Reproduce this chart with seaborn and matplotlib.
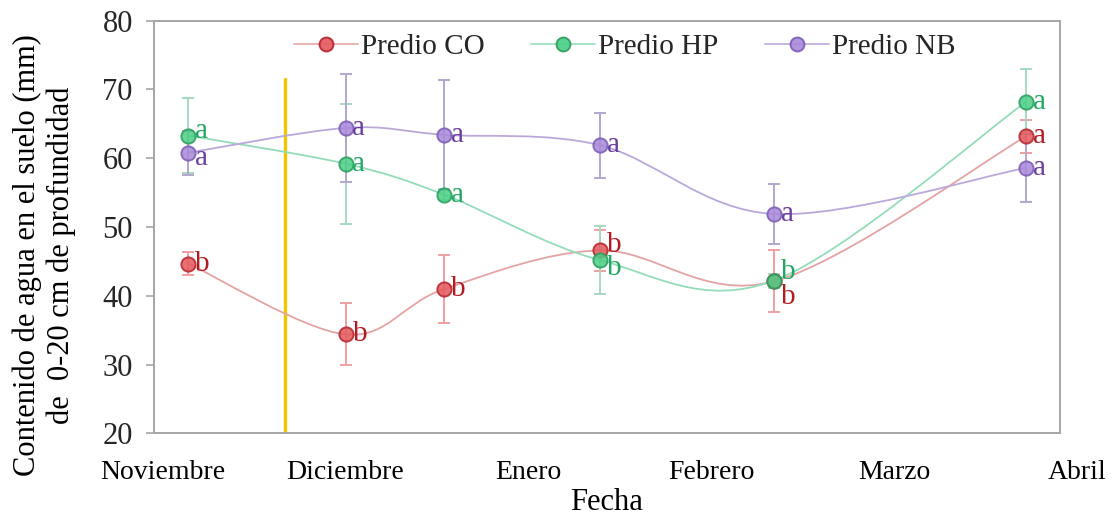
import numpy as np
import pandas as pd
import matplotlib
matplotlib.use("Agg")
import matplotlib.pyplot as plt
import seaborn as sns
from matplotlib.path import Path
from matplotlib.patches import PathPatch
from matplotlib.lines import Line2D
import matplotlib.transforms as mtransforms

# ---------------- data ----------------
meses = ["Noviembre", "Diciembre", "Enero", "Febrero", "Marzo", "Abril"]
fecha = [0.14, 1.00, 1.54, 2.39, 3.34, 4.72]   # sampling dates (months after 1 Nov)
predios = ["Predio CO", "Predio HP", "Predio NB"]
co = [44.7, 34.4, 41.0, 46.6, 42.1, 63.2]
hp = [63.3, 59.2, 54.7, 45.2, 42.2, 68.2]
nb = [60.8, 64.4, 63.4, 61.9, 51.9, 58.6]
co_err = [1.7, 4.5, 5.0, 3.0, 4.5, 2.4]
hp_err = [5.5, 8.7, 0.8, 4.9, 1.0, 4.7]
nb_err = [3.2, 7.8, 8.0, 4.7, 4.3, 4.9]
co_letras = ["b", "b", "b", "b", "b", "a"]
hp_letras = ["a", "a", "a", "b", "b", "a"]
nb_letras = ["a", "a", "a", "a", "a", "a"]
corte_fecha = 0.67
corte_max = 71.5

# ---------------- style ----------------
sns.set_theme(style="white")
plt.rcParams["font.family"] = ["Liberation Serif", "DejaVu Serif"]

FS = 20
styles = {
    "Predio CO": dict(line="#E4A3A4", face="#E5585C", edge="#B3242B", err="#EFA0A2", text="#B01C22"),
    "Predio HP": dict(line="#93DDB9", face="#4ACF86", edge="#2A9C5C", err="#A5D9C0", text="#22A862"),
    "Predio NB": dict(line="#BBA8DA", face="#A988DA", edge="#7A5BB3", err="#B3A7CF", text="#6B3F9E"),
}
series = {
    "Predio CO": (co, co_err, co_letras),
    "Predio HP": (hp, hp_err, hp_letras),
    "Predio NB": (nb, nb_err, nb_letras),
}
# letter offsets in points (layout only)
letter_off = {
    ("Predio CO", 3): (5, 4), ("Predio HP", 3): (5, -6),
    ("Predio HP", 4): (5, 6), ("Predio CO", 4): (5, -11),
    ("Predio HP", 0): (5, 3), ("Predio NB", 0): (5, -4),
}

fig = plt.figure(figsize=(11.18, 5.16), dpi=100)
ax = fig.add_axes([0.1374, 0.160, 0.948 - 0.1374, 0.960 - 0.160])

ax.set_xlim(-0.049, 4.904)
ax.set_ylim(20, 80)


def smooth_path(xs, ys):
    pts = np.column_stack([xs, ys]).astype(float)
    n = len(pts)
    verts = [pts[0]]
    codes = [Path.MOVETO]
    for i in range(n - 1):
        p0 = pts[i - 1] if i > 0 else pts[i]
        p1 = pts[i]
        p2 = pts[i + 1]
        p3 = pts[i + 2] if i + 2 < n else pts[i + 1]
        c1 = p1 + (p2 - p0) / 6.0
        c2 = p2 - (p3 - p1) / 6.0
        verts += [c1, c2, p2]
        codes += [Path.CURVE4] * 3
    return Path(verts, codes)


# yellow vertical line
ax.plot([corte_fecha, corte_fecha], [20, corte_max], color="#F3C400", lw=2.4, zorder=2)

for name in predios:
    vals, errs, letras = series[name]
    st = styles[name]
    patch = PathPatch(smooth_path(fecha, vals), facecolor="none", edgecolor=st["line"], lw=1.3, zorder=3)
    ax.add_patch(patch)
    ax.errorbar(fecha, vals, yerr=errs, fmt="none", ecolor=st["err"], elinewidth=1.4,
                capsize=4, capthick=1.4, zorder=3.5)
    df = pd.DataFrame({"fecha": fecha, "valor": vals})
    sns.scatterplot(data=df, x="fecha", y="valor", ax=ax, s=105, color=st["face"],
                    edgecolor=st["edge"], linewidth=1.4, alpha=0.85, zorder=4, legend=False)
    for i, (xv, yv, lt) in enumerate(zip(fecha, vals, letras)):
        dx, dy = letter_off.get((name, i), (5, 0))
        ax.annotate(lt, (xv, yv), xytext=(dx, dy), textcoords="offset points",
                    ha="left", va="center", fontsize=FS + 1, color=st["text"], zorder=5)

# axes styling
for sp in ax.spines.values():
    sp.set_color("#A6A6A6")
    sp.set_linewidth(1.4)
ax.set_yticks([20, 30, 40, 50, 60, 70, 80])
ax.tick_params(axis="y", which="both", length=6, width=1.2, color="#A6A6A6",
               labelsize=FS + 2, pad=9, left=True, direction="out")
ax.set_xticks([])
ax.set_xlabel("")
ax.set_ylabel("")
fig.text(44 / 1118, 1 - 255 / 516,
         "Contenido de agua en el suelo (mm)\nde  0-20 cm de profundidad",
         rotation=90, ha="center", va="center", fontsize=FS + 2, color="black",
         linespacing=1.2, multialignment="center")

# month labels (Abril sits beyond the plotting window)
trans = mtransforms.blended_transform_factory(ax.transData, ax.transAxes)
for i, m in enumerate(meses):
    ax.text(i, -0.095, m, transform=trans, ha="center", va="center",
            fontsize=FS, color="black", clip_on=False)
fig.text(607 / 1118, 1 - 503 / 516, "Fecha", ha="center", va="center",
         fontsize=FS + 2, color="black")

# legend
handles = [Line2D([0], [0], color=styles[n]["line"], lw=1.3, marker="o", markersize=10,
                  markerfacecolor=styles[n]["face"], markeredgecolor=styles[n]["edge"],
                  markeredgewidth=1.4, alpha=0.9) for n in predios]
ax.legend(handles, predios, loc="upper center", bbox_to_anchor=(0.52, 1.01), ncol=3,
          frameon=False, fontsize=FS + 1, handlelength=2.2, columnspacing=1.6,
          handletextpad=0.1, borderaxespad=0.2)

fig.savefig("out.png", dpi=100)
